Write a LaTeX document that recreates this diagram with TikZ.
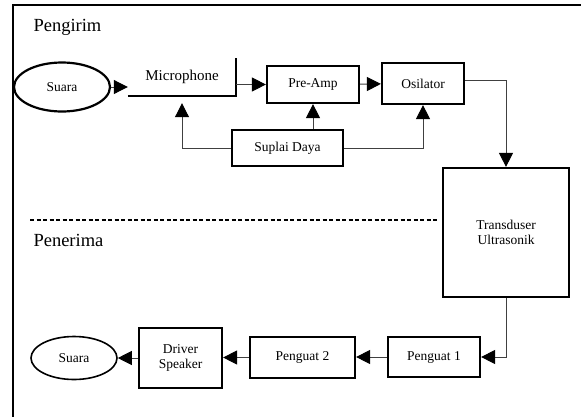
\documentclass[tikz,border=0pt]{standalone}
\usepackage{fontspec}
\setmainfont{Liberation Serif}
\usetikzlibrary{arrows.meta,shapes.geometric}
\begin{document}
\begin{tikzpicture}[x=1pt, y=-1pt,
            blk/.style={rectangle,draw=black,line width=2.2pt,inner sep=0pt,align=center,font=\fontsize{13.5}{15.5}\selectfont},
            ell/.style={ellipse,draw=black,inner sep=0pt,font=\fontsize{13.5}{15.5}\selectfont},
            arr/.style={-{Triangle[length=14pt,width=14pt,color=black]},draw=black!75,line width=1pt},
            lab/.style={anchor=base west,font=\fontsize{18.5}{20}\selectfont}]
            \useasboundingbox (0,0) rectangle (581,416);
            \draw[line width=2pt] (13,420) -- (13,5) -- (585,5);

            \node[lab] (tx) at (30,31) {Pengirim};
            \node[lab] (rx) at (30,246) {Penerima};
            \draw[line width=1.3pt, dash pattern=on 4pt off 2.5pt] (30,220) -- (437,220);

            \node[ell,line width=2.2pt,minimum width=96pt,minimum height=49pt] (s1) at (62,87) {Suara};
            \node[minimum width=108pt,minimum height=38pt,inner sep=0pt,font=\fontsize{15}{17}\selectfont] (mic) at (182,77) {Microphone};
            \draw[line width=1.8pt] (mic.south west) -- (mic.south east) -- (mic.north east);
            \node[blk,minimum width=92pt,minimum height=37pt] (pre) at (313,84.5) {Pre-Amp};
            \node[blk,minimum width=82pt,minimum height=41pt] (osc) at (423,83.5) {Osilator};
            \node[blk,minimum width=111pt,minimum height=36pt] (sup) at (287.5,148) {Suplai Daya};
            \node[blk,minimum width=126pt,minimum height=129pt] (trd) at (506,232.5) {Transduser\\Ultrasonik};

            \node[blk,minimum width=92pt,minimum height=40pt] (pg1) at (434,357) {Penguat 1};
            \node[blk,minimum width=105pt,minimum height=41pt] (pg2) at (302.5,357.5) {Penguat 2};
            \node[blk,minimum width=83pt,minimum height=60pt] (drv) at (180.5,358) {Driver\\Speaker};
            \node[ell,line width=1.6pt,minimum width=86pt,minimum height=43pt] (s2) at (74,358) {Suara};

            \draw[arr] (s1.east) to (s1.east -| mic.west);
            \draw[arr] (pre.west -| mic.east) to (pre.west);
            \draw[arr] (pre) to (osc);
            \draw[arr] (sup.north -| pre.south) to (pre.south);
            \draw[arr] (sup.west) -| ([yshift=-7pt]mic.south);
            \draw[arr] (sup.east) -| (osc.south);
            \draw[arr] ([yshift=3pt]osc.east) -| (trd.north);

            \draw[arr] (trd.south) |- (pg1.east);
            \draw[arr] (pg1.west) to (pg1.west -| pg2.east);
            \draw[arr] (pg2.west) to (pg2.west -| drv.east);
            \draw[arr] (drv.west |- s2.east) to (s2.east);
        \end{tikzpicture}
\end{document}
